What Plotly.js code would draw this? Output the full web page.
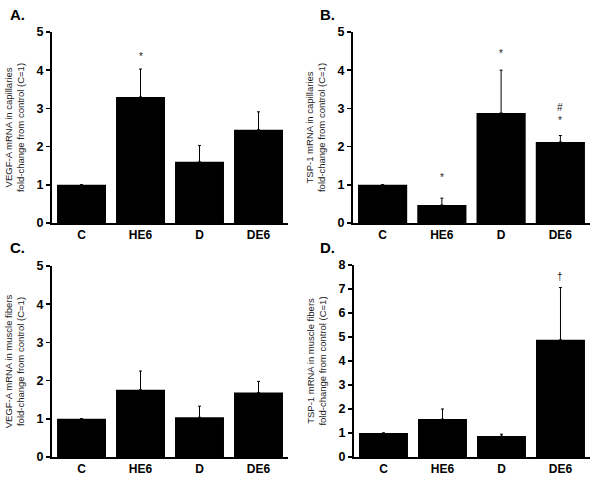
<!DOCTYPE html>
<html><head><meta charset="utf-8">
<script src="https://cdn.plot.ly/plotly-3.0.1.min.js"></script>
<style>html,body{margin:0;padding:0;background:#fff}#c{width:600px;height:484px}</style>
</head><body><div id="c"></div>
<script>
const categories = ["C", "HE6", "D", "DE6"];
const vegfCap = [1.0, 3.3, 1.6, 2.44];
const vegfCapErr = [0, 0.73, 0.43, 0.47];
const tspCap = [1.0, 0.47, 2.88, 2.12];
const tspCapErr = [0, 0.18, 1.12, 0.17];
const vegfMus = [1.0, 1.76, 1.04, 1.69];
const vegfMusErr = [0, 0.49, 0.29, 0.29];
const tspMus = [1.0, 1.58, 0.87, 4.88];
const tspMusErr = [0, 0.42, 0.08, 2.18];
const zeros = [0, 0, 0, 0];

const yTitles = [
  "VEGF-A mRNA in capillaries<br>fold-change from control (C=1)",
  "TSP-1 mRNA in capillaries<br>fold-change from control (C=1)",
  "VEGF-A mRNA in muscle fibers<br>fold-change from control (C=1)",
  "TSP-1 mRNA in muscle fibers<br>fold-change from control (C=1)"
];
const panelLabels = ["A.", "B.", "C.", "D."];
// significance marks: [panel, category, y, text]
const marks = [
  [0, "HE6", 4.35, "*"],
  [1, "HE6", 1.18, "*"],
  [1, "D", 4.45, "*"],
  [1, "DE6", 3.03, "#"],
  [1, "DE6", 2.67, "*"],
  [3, "DE6", 7.5, "†"]
];

const series = [[vegfCap, vegfCapErr], [tspCap, tspCapErr], [vegfMus, vegfMusErr], [tspMus, tspMusErr]];
const yMax = [5, 5, 5, 8];
const xDom = [[0.0867, 0.48], [0.5883, 0.9833], [0.0867, 0.48], [0.59, 0.9833]];
const yDom = [[0.5393, 0.9339], [0.5393, 0.9339], [0.0558, 0.4504], [0.0558, 0.4525]];

const data = [];
const layout = {
  width: 600, height: 484,
  margin: {l: 0, r: 0, t: 0, b: 0},
  paper_bgcolor: "#fff", plot_bgcolor: "#fff",
  showlegend: false,
  bargap: 0.17,
  font: {family: "Arial, Liberation Sans, sans-serif", color: "#000"},
  annotations: []
};

series.forEach((s, i) => {
  const n = i === 0 ? "" : String(i + 1);
  data.push({
    type: "bar", x: categories, y: s[0],
    xaxis: "x" + n, yaxis: "y" + n,
    marker: {color: "#000", line: {width: 0}},
    error_y: {type: "data", symmetric: false, array: s[1], arrayminus: zeros,
      color: "#000", thickness: 1, width: 1.5, visible: true},
    hoverinfo: "none"
  });
  layout["xaxis" + n] = {
    domain: xDom[i], anchor: "y" + n, type: "category",
    range: [-0.5, 3.5], showline: true, linecolor: "#000", linewidth: 2,
    ticks: "", showgrid: false, zeroline: false,
    tickfont: {size: 12, family: "Arial", weight: "bold", color: "#000"}
  };
  const tv = [];
  for (let k = 0; k <= yMax[i]; k++) tv.push(k);
  layout["yaxis" + n] = {
    domain: yDom[i], anchor: "x" + n,
    range: [0, yMax[i]], tickvals: tv, showline: true, linecolor: "#000", linewidth: 2,
    ticks: "outside", ticklen: 4, tickwidth: 1.5, tickcolor: "#000",
    showgrid: false, zeroline: false,
    tickfont: {size: 12.5, family: "Arial", weight: "bold", color: "#000"},
    title: {text: yTitles[i], font: {size: 9.5, family: "Arial", color: "#222"}, standoff: 10}
  };
  layout.annotations.push({
    xref: "paper", yref: "paper",
    x: (i % 2 === 0 ? 8 : 318) / 600,
    y: 1 - (i < 2 ? 14 : 247) / 484,
    xanchor: "left", yanchor: "middle", showarrow: false,
    text: "<b>" + panelLabels[i] + "</b>",
    font: {size: 15, family: "Arial", color: "#000"}
  });
});

marks.forEach(m => {
  const n = m[0] === 0 ? "" : String(m[0] + 1);
  layout.annotations.push({
    xref: "x" + n, yref: "y" + n, x: m[1], y: m[2],
    text: m[3], showarrow: false, xanchor: "center", yanchor: "middle",
    font: {size: 10, family: "Arial", color: "#222"}
  });
});

Plotly.newPlot("c", data, layout, {displayModeBar: false, staticPlot: true});
</script>
</body></html>
